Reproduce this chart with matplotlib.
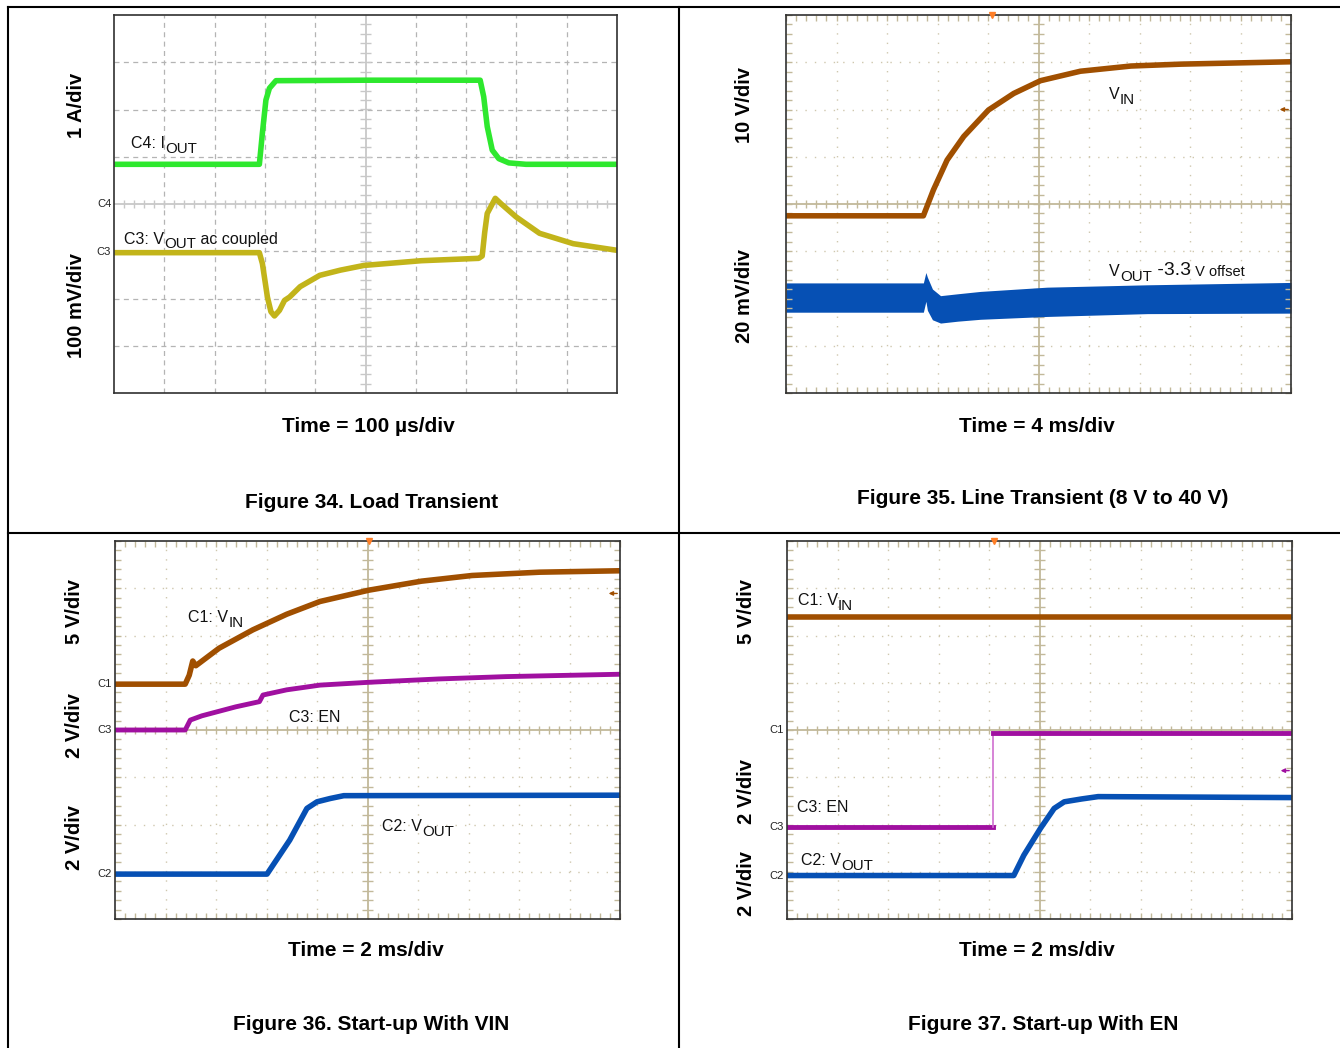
import matplotlib
matplotlib.use("Agg")
import matplotlib.pyplot as plt
from matplotlib.lines import Line2D
import numpy as np

plt.rcParams['font.family'] = ['Liberation Sans', 'DejaVu Sans']
plt.rcParams['lines.solid_joinstyle'] = 'round'

# all traces are in scope divisions: x 0..10, y 0..8
# Figure 34, load transient
iout34_x = [0, 2.89, 2.95, 3.02, 3.09, 3.22, 5.0, 7.28, 7.35, 7.42, 7.52, 7.65, 7.85, 8.19, 10]
iout34_y = [4.84, 4.84, 5.5, 6.2, 6.45, 6.61, 6.62, 6.62, 6.27, 5.64, 5.14, 4.96, 4.87, 4.84, 4.84]
vout34_x = [0, 2.89, 2.95, 3.05, 3.12, 3.19, 3.29, 3.39, 3.49, 3.7, 4.09, 4.5, 4.97, 6.11, 7.25,
            7.32, 7.37, 7.42, 7.58, 7.7, 7.99, 8.46, 9.13, 10]
vout34_y = [2.97, 2.97, 2.74, 2.03, 1.72, 1.63, 1.75, 1.96, 2.03, 2.25, 2.49, 2.6, 2.70, 2.80, 2.85,
            2.9, 3.4, 3.80, 4.12, 4.0, 3.73, 3.38, 3.16, 3.02]

# Figure 35, line transient
vin35_x = [0, 2.72, 2.92, 3.19, 3.52, 4.01, 4.51, 5.04, 5.83, 6.83, 7.82, 10]
vin35_y = [3.75, 3.75, 4.30, 4.93, 5.43, 5.99, 6.34, 6.61, 6.81, 6.92, 6.96, 7.01]
vout35_x = [0, 2.72, 2.77, 2.80, 2.90, 3.06, 3.4, 3.85, 5.17, 7.16, 10]
vout35_hi = [2.33, 2.33, 2.55, 2.45, 2.2, 2.06, 2.1, 2.15, 2.24, 2.29, 2.34]
vout35_lo = [1.71, 1.71, 1.94, 1.75, 1.55, 1.48, 1.52, 1.56, 1.62, 1.68, 1.69]

# Figure 36, start-up with VIN
vin36_x = [0, 1.39, 1.47, 1.54, 1.60, 2.06, 2.73, 3.40, 4.06, 5.03, 6.07, 7.07, 8.41, 10]
vin36_y = [4.97, 4.97, 5.16, 5.46, 5.36, 5.73, 6.12, 6.45, 6.72, 6.96, 7.15, 7.27, 7.34, 7.37]
en36_x = [0, 1.39, 1.49, 1.72, 2.39, 2.86, 2.93, 3.40, 4.06, 5.03, 6.40, 7.74, 10]
en36_y = [4.0, 4.0, 4.21, 4.30, 4.49, 4.60, 4.74, 4.85, 4.95, 5.01, 5.08, 5.13, 5.18]
vout36_x = [0, 3.01, 3.46, 3.80, 4.00, 4.26, 4.53, 10]
vout36_y = [0.95, 0.95, 1.67, 2.34, 2.48, 2.55, 2.61, 2.62]

# Figure 37, start-up with EN
vin37_x = [0, 10]
vin37_y = [6.40, 6.40]
en37_x = [0, 4.07, 4.07, 10]
en37_y = [1.94, 1.94, 3.93, 3.93]
vout37_x = [0, 4.49, 4.69, 5.02, 5.29, 5.49, 5.83, 6.16, 10]
vout37_y = [0.92, 0.92, 1.35, 1.92, 2.34, 2.48, 2.54, 2.59, 2.57]

GREEN = '#2ee82e'
OLIVE = '#c2b41a'
BROWN = '#a04f00'
BLUE = '#0650b4'
MAG = '#a010a0'
TAN = '#c2b99a'
LW = 4.0

W, H = 1340, 1048
fig = plt.figure(figsize=(W / 100, H / 100), dpi=100)


def px_axes(x0, y0, x1, y1):
    return fig.add_axes([x0 / W, 1 - y1 / H, (x1 - x0) / W, (y1 - y0) / H])


def scope(ax, style):
    ax.set_xlim(0, 10)
    ax.set_ylim(0, 8)
    if style == 'gray':
        gc, cc, ls, lw = '#b4b4b4', '#c8c8c8', (0, (4, 3.5)), 0.9
        ax.set_xticks([])
        ax.set_yticks([])
    else:
        gc, cc, ls, lw = '#cfc7ae', TAN, (0, (1, 5.8)), 1.0
        ax.set_xticks(np.arange(0, 10.01, 0.2))
        ax.set_yticks(np.arange(0, 8.01, 0.2))
        ax.tick_params(direction='in', length=4, width=1, color=TAN, top=True, right=True,
                       labelbottom=False, labelleft=False)
    for i in range(1, 10):
        if i != 5:
            ax.axvline(i, color=gc, ls=ls, lw=lw, zorder=0)
    for j in range(1, 8):
        if j != 4:
            ax.axhline(j, color=gc, ls=ls, lw=lw, zorder=0)
    ax.axvline(5, color=cc, lw=1.3, zorder=0)
    ax.axhline(4, color=cc, lw=1.3, zorder=0)
    ax.vlines(np.arange(0.2, 10, 0.2), 3.91, 4.09, color=cc, lw=1, zorder=0)
    ax.hlines(np.arange(0.2, 8, 0.2), 4.9, 5.1, color=cc, lw=1, zorder=0)
    for s in ax.spines.values():
        s.set_color('#303030')
        s.set_linewidth(1.2)


def chain(ax, x, y, pieces):
    prev, prev_dy = None, 0
    for s, fs, dy in pieces:
        if prev is None:
            prev = ax.text(x, y, s, fontsize=fs, va='bottom', ha='left', color='#111111')
        else:
            prev = ax.annotate(s, xy=(1, 0), xycoords=prev, xytext=(0, dy - prev_dy),
                               textcoords='offset points', fontsize=fs, va='bottom',
                               ha='left', color='#111111')
        prev_dy = dy


def ch_mark(ax, y, name):
    ax.annotate(name, xy=(0, y), xycoords=ax.get_yaxis_transform(), xytext=(-2, 0),
                textcoords='offset points', ha='right', va='center', fontsize=8, color='#222222')


def trig(ax, x):
    ax.plot([x], [8], marker='v', color='#ff7f27', ms=5, clip_on=False, zorder=5)


def arrow(ax, y, c):
    ax.annotate('', xy=(9.72, y), xytext=(10, y),
                arrowprops=dict(arrowstyle='-|>', color=c, lw=1, mutation_scale=6))


def ftext(x, y, s, **kw):
    fig.text(x / W, 1 - y / H, s, ha='center', va='center', fontweight='bold', **kw)


FS = 11.5
SUB = -3.5

# ---- Figure 34
ax = px_axes(114, 15, 617, 393)
scope(ax, 'gray')
ax.plot(iout34_x, iout34_y, color=GREEN, lw=LW)
ax.plot(vout34_x, vout34_y, color=OLIVE, lw=LW)
chain(ax, 0.34, 5.12, [('C4: I', FS, 0), ('OUT', FS * 0.95, SUB)])
chain(ax, 0.2, 3.1, [('C3: V', FS, 0), ('OUT', FS * 0.95, SUB), (' ac coupled', FS, 0)])
ch_mark(ax, 4.0, 'C4')
ch_mark(ax, 2.98, 'C3')
ftext(77, 105, '1 A/div', rotation=90, fontsize=14.5)
ftext(77, 306, '100 mV/div', rotation=90, fontsize=14.5)
ftext(368, 426, 'Time = 100 µs/div', fontsize=15)
ftext(372, 503, 'Figure 34. Load Transient', fontsize=15)

# ---- Figure 35
ax = px_axes(786, 15, 1291, 393)
scope(ax, 'tan')
ax.plot(vin35_x, vin35_y, color=BROWN, lw=LW)
ax.fill_between(vout35_x, vout35_lo, vout35_hi, color=BLUE, lw=0)
chain(ax, 6.40, 6.15, [('V', FS, 0), ('IN', FS * 0.95, SUB)])
chain(ax, 6.40, 2.42, [('V', FS, 0), ('OUT', FS * 0.95, SUB), (' -3.3', 14, 0), (' V offset', 10.5, 0)])
trig(ax, 4.08)
arrow(ax, 6.0, BROWN)
ftext(745, 105, '10 V/div', rotation=90, fontsize=14.5)
ftext(745, 296, '20 mV/div', rotation=90, fontsize=14.5)
ftext(1037, 426, 'Time = 4 ms/div', fontsize=15)
ftext(1043, 498, 'Figure 35. Line Transient (8 V to 40 V)', fontsize=15)

# ---- Figure 36
ax = px_axes(115, 541, 620, 919)
scope(ax, 'tan')
ax.plot(vin36_x, vin36_y, color=BROWN, lw=LW)
ax.plot(en36_x, en36_y, color=MAG, lw=LW - 0.5)
ax.plot(vout36_x, vout36_y, color=BLUE, lw=LW)
chain(ax, 1.45, 6.22, [('C1: V', FS, 0), ('IN', FS * 0.95, SUB)])
chain(ax, 3.45, 4.10, [('C3: EN', FS, 0)])
chain(ax, 5.29, 1.80, [('C2: V', FS, 0), ('OUT', FS * 0.95, SUB)])
ch_mark(ax, 4.97, 'C1')
ch_mark(ax, 4.0, 'C3')
ch_mark(ax, 0.95, 'C2')
trig(ax, 5.02)
arrow(ax, 6.89, BROWN)
ftext(75, 612, '5 V/div', rotation=90, fontsize=14.5)
ftext(75, 725, '2 V/div', rotation=90, fontsize=14.5)
ftext(75, 837, '2 V/div', rotation=90, fontsize=14.5)
ftext(366, 951, 'Time = 2 ms/div', fontsize=15)
ftext(371, 1024, 'Figure 36. Start-up With VIN', fontsize=15)

# ---- Figure 37
ax = px_axes(787, 541, 1292, 919)
scope(ax, 'tan')
ax.plot(vin37_x, vin37_y, color=BROWN, lw=LW)
ax.plot(en37_x[:2], en37_y[:2], color=MAG, lw=LW - 0.5)
ax.plot(en37_x[1:3], en37_y[1:3], color='#d070d0', lw=1.2)
ax.plot(en37_x[2:], en37_y[2:], color=MAG, lw=LW - 0.5)
ax.plot(vout37_x, vout37_y, color=BLUE, lw=LW)
chain(ax, 0.22, 6.58, [('C1: V', FS, 0), ('IN', FS * 0.95, SUB)])
chain(ax, 0.2, 2.2, [('C3: EN', FS, 0)])
chain(ax, 0.28, 1.08, [('C2: V', FS, 0), ('OUT', FS * 0.95, SUB)])
ch_mark(ax, 4.0, 'C1')
ch_mark(ax, 1.95, 'C3')
ch_mark(ax, 0.92, 'C2')
trig(ax, 4.09)
arrow(ax, 3.14, MAG)
ftext(747, 612, '5 V/div', rotation=90, fontsize=14.5)
ftext(747, 792, '2 V/div', rotation=90, fontsize=14.5)
ftext(747, 884, '2 V/div', rotation=90, fontsize=14.5)
ftext(1037, 951, 'Time = 2 ms/div', fontsize=15)
ftext(1043, 1024, 'Figure 37. Start-up With EN', fontsize=15)

# page frame
for xs, ys in [([8, W], [7, 7]), ([8, 8], [7, H]), ([8, W], [533, 533]), ([679, 679], [7, H])]:
    fig.add_artist(Line2D([x / W for x in xs], [1 - y / H for y in ys], color='black', lw=1.5))

fig.savefig('out.png', dpi=100)
